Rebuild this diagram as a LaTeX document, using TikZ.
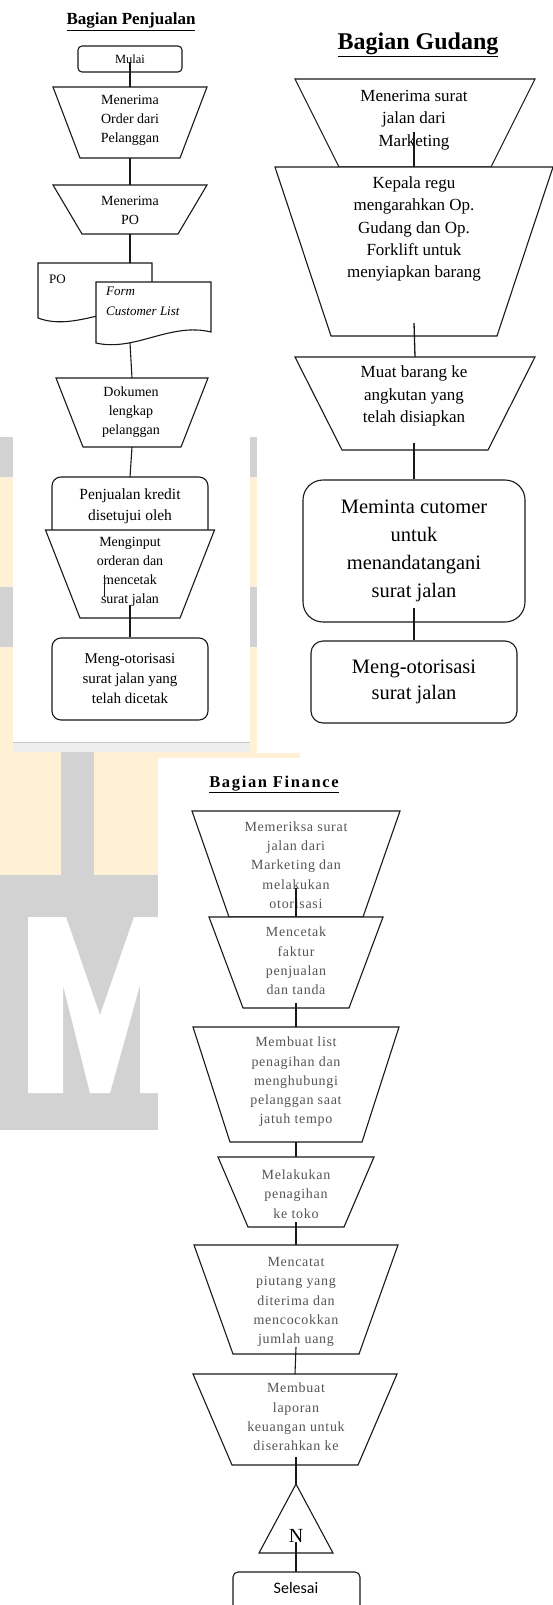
\documentclass[tikz,border=0pt]{standalone}
\usepackage{fontspec}
\setmainfont{Liberation Serif}
\newfontfamily\calib{Carlito}
\newfontfamily\finfont[LetterSpace=5]{Liberation Serif}
\newfontfamily\fintitle[LetterSpace=10]{Liberation Serif}
\usetikzlibrary{calc}
\definecolor{wmyel}{HTML}{FFF0D6}
\definecolor{wmgry}{HTML}{D3D2D2}
\definecolor{bandg}{HTML}{EEEEEE}
\definecolor{bandl}{HTML}{C9C9C9}
\definecolor{fintxt}{HTML}{555555}
\tikzset{
  shp/.style={draw=black!90, line width=1.1pt, fill=white, line join=miter},
  conn/.style={draw=black!90, line width=1.1pt},
  rbox/.style={shp, rounded corners=#1, inner sep=0pt, align=center},
  ptxt/.style={align=center, inner sep=0pt, font=\fontsize{14}{19}\selectfont},
  gtxt/.style={align=center, inner sep=0pt, font=\fontsize{17}{22.3}\selectfont},
  ftxt/.style={align=center, inner sep=0pt, text=fintxt, font=\finfont\fontsize{14}{19.3}\selectfont},
  ttl/.style={anchor=base, inner sep=0pt, font=\bfseries\fontsize{#1}{#1}\selectfont}
}
\newcommand\trapz[6]{%
  \path[shp] ({#2-#5},#3) -- ({#2+#5},#3) -- ({#2+#6},#4) -- ({#2-#6},#4) -- cycle;
  \coordinate (#1-t) at (#2,#3);
  \coordinate (#1-b) at (#2,#4);}
\begin{document}
\begin{tikzpicture}[x=1pt,y=-1pt]
\useasboundingbox (0,0) rectangle (553,1605);
\fill[white] (0,0) rectangle (553,1605);
% ---------- watermark background ----------
\fill[wmyel] (0,437) rectangle (300,875);
\fill[wmgry] (0,437) rectangle (300,477);
\fill[wmgry] (0,587) rectangle (300,647);
\fill[wmgry] (61,752) rectangle (94,875);
\fill[wmgry] (0,875) rectangle (158,1130);
\fill[white] (28,1093) -- (28,917) -- (66,917) -- (100,1015) -- (134,917) -- (158,917)
  -- (158,1093) -- (140,1093) -- (140,985) -- (110,1093) -- (90,1093) -- (63,985) -- (63,1093) -- cycle;
% ---------- panels ----------
\fill[white] (13,0) rectangle (250,742);
\fill[bandg] (13,742) rectangle (250,752);
\draw[bandl, line width=0.8pt] (13,742.5) -- (250,742.5);
\fill[white] (257,0) rectangle (553,753);
\fill[white] (158,758) rectangle (553,1605);

% ================= Bagian Penjualan =================
\node[ttl=17] (tp) at (131,25) {\underline{Bagian Penjualan}};
\node[rbox=4pt, minimum width=104pt, minimum height=26pt, font=\fontsize{12.5}{14}\selectfont] (mulai) at (130,59) {Mulai};
\coordinate (m-s) at (130,62);
\trapz{p1}{130}{87}{158}{77}{50}
\node[ptxt] (p1txt) at (130,120) {Menerima\\Order dari\\Pelanggan};
\trapz{p2}{130}{185}{234}{77}{48}
\node[ptxt] (p2txt) at (130,210) {Menerima\\PO};
% documents
\path[shp] (38,263) -- (152,263) -- (152,312) .. controls (115,302) and (75,332) .. (38,318) -- cycle;
\coordinate (po-t) at (130,263);
\node[anchor=west, inner sep=0pt, font=\fontsize{13}{15}\selectfont] (potxt) at (49,279) {PO};
\path[shp] (96,282) -- (211,282) -- (211,332) .. controls (170,322) and (135,352) .. (96,343) -- cycle;
\coordinate (d2-b) at (130,343);
\node[anchor=north west, align=left, inner sep=0pt, font=\itshape\fontsize{13}{20}\selectfont] (d2txt) at (106,287) {Form\\Customer List};
\trapz{p3}{132}{378}{447}{76}{49}
\node[ptxt] (p3txt) at (131,412) {Dokumen\\lengkap\\pelanggan};
\path[shp, rounded corners=9pt] (52,545) -- (52,477) -- (208,477) -- (208,545);
\coordinate (kr-t) at (130,477);
\node[align=center, inner sep=0pt, font=\fontsize{15.5}{21}\selectfont] (krtxt) at (130,506) {Penjualan kredit\\disetujui oleh};
\trapz{p4}{130}{530}{618}{84.5}{50}
\node[ptxt] (p4txt) at (130,572) {Menginput\\orderan dan\\mencetak\\surat jalan};
\coordinate (sa) at (104,575);
\coordinate (sb) at (104,597);
\draw[conn, line width=0.9pt] (sa) -- (sb);
\coordinate (p4-s) at (130,605);
\node[rbox=9pt, minimum width=156pt, minimum height=82pt, font=\fontsize{15}{20}\selectfont] (p5) at (130,679) {Meng-otorisasi\\surat jalan yang\\telah dicetak};
\draw[conn] (m-s) -- (p1-t);
\draw[conn] (p1-b) -- (p2-t);
\draw[conn] (p2-b) -- (po-t);
\draw[conn] (d2-b) -- (p3-t);
\draw[conn] (p3-b) -- (kr-t);
\draw[conn] (p4-s) -- (p5.north);

% ================= Bagian Gudang =================
\node[ttl=24] (tg) at (418,50) {\underline{Bagian Gudang}};
\trapz{g1}{415}{79}{167}{120}{76}
\node[gtxt] (g1txt) at (414,120) {Menerima surat\\jalan dari\\Marketing};
\coordinate (g1-s) at (414,132);
\trapz{g2}{414}{167}{336}{139}{83}
\node[gtxt] (g2txt) at (414,229) {Kepala regu\\mengarahkan Op.\\Gudang dan Op.\\Forklift untuk\\menyiapkan barang};
\coordinate (g2-s) at (414,323);
\trapz{g3}{415}{357}{450}{120}{73}
\node[gtxt] (g3txt) at (414,396) {Muat barang ke\\angkutan yang\\telah disiapkan};
\coordinate (g3-s) at (414,443);
\node[rbox=20pt, minimum width=222pt, minimum height=142pt, font=\fontsize{20.5}{27.8}\selectfont] (g4) at (414,551) {Meminta cutomer\\untuk\\menandatangani\\surat jalan};
\coordinate (g4-s) at (414,608);
\node[rbox=12pt, minimum width=206pt, minimum height=82pt, font=\fontsize{20.5}{26.7}\selectfont] (g5) at (414,682) {Meng-otorisasi\\surat jalan};
\draw[conn, line width=1.3pt] (g1-s) -- (g2-t);
\draw[conn, line width=1.3pt] (g2-s) -- (g3-t);
\draw[conn, line width=1.3pt] (g3-s) -- (g4.north);
\draw[conn, line width=1.3pt] (g4-s) -- (g5.north);

% ================= Bagian Finance =================
\node[ttl=16.5, font=\fintitle\bfseries\fontsize{16.5}{16.5}\selectfont] (tf) at (274,787) {\underline{Bagian Finance}};
\trapz{f1}{296}{811}{917}{104}{67}
\node[ftxt] (f1txt) at (296,865) {Memeriksa surat\\jalan dari\\Marketing dan\\melakukan\\otorisasi};
\coordinate (f1-s) at (296,888);
\trapz{f2}{296}{917}{1008}{87}{53}
\node[ftxt] (f2txt) at (296,961) {Mencetak\\faktur\\penjualan\\dan tanda};
\coordinate (f2-s) at (296,1003);
\trapz{f3}{296}{1027}{1142}{103}{66}
\node[ftxt] (f3txt) at (296,1082) {Membuat list\\penagihan dan\\menghubungi\\pelanggan saat\\jatuh tempo};
\trapz{f4}{296}{1157}{1227}{78}{48}
\node[ftxt] (f4txt) at (296,1194) {Melakukan\\penagihan\\ke toko};
\coordinate (f4-s) at (296,1222);
\trapz{f5}{296}{1245}{1354}{102}{63}
\node[ftxt] (f5txt) at (296,1302) {Mencatat\\piutang yang\\diterima dan\\mencocokkan\\jumlah uang};
\coordinate (f5-s) at (296,1347);
\trapz{f6}{295}{1374}{1465}{102}{63}
\node[ftxt] (f6txt) at (296,1417) {Membuat\\laporan\\keuangan untuk\\diserahkan ke};
\coordinate (f6-s) at (296,1457);
\path[shp] (296,1484) -- (333,1553) -- (259,1553) -- cycle;
\coordinate (tri-t) at (296,1484);
\node[inner sep=0pt, font=\fontsize{20}{20}\selectfont] (ntxt) at (296,1536) {N};
\coordinate (tri-s) at (296,1542);
\path[shp, rounded corners=5pt] (233,1625) -- (233,1572) -- (360,1572) -- (360,1625);
\coordinate (sel-t) at (296,1572);
\node[inner sep=0pt, font=\calib\fontsize{16}{16}\selectfont] (seltxt) at (296,1588) {Selesai};
\draw[conn] (f1-s) -- (f2-t);
\draw[conn] (f2-s) -- (f3-t);
\draw[conn] (f3-b) -- (f4-t);
\draw[conn] (f4-s) -- (f5-t);
\draw[conn] (f5-s) -- (f6-t);
\draw[conn] (f6-s) -- (tri-t);
\draw[conn] (tri-s) -- (sel-t);
\end{tikzpicture}
\end{document}
